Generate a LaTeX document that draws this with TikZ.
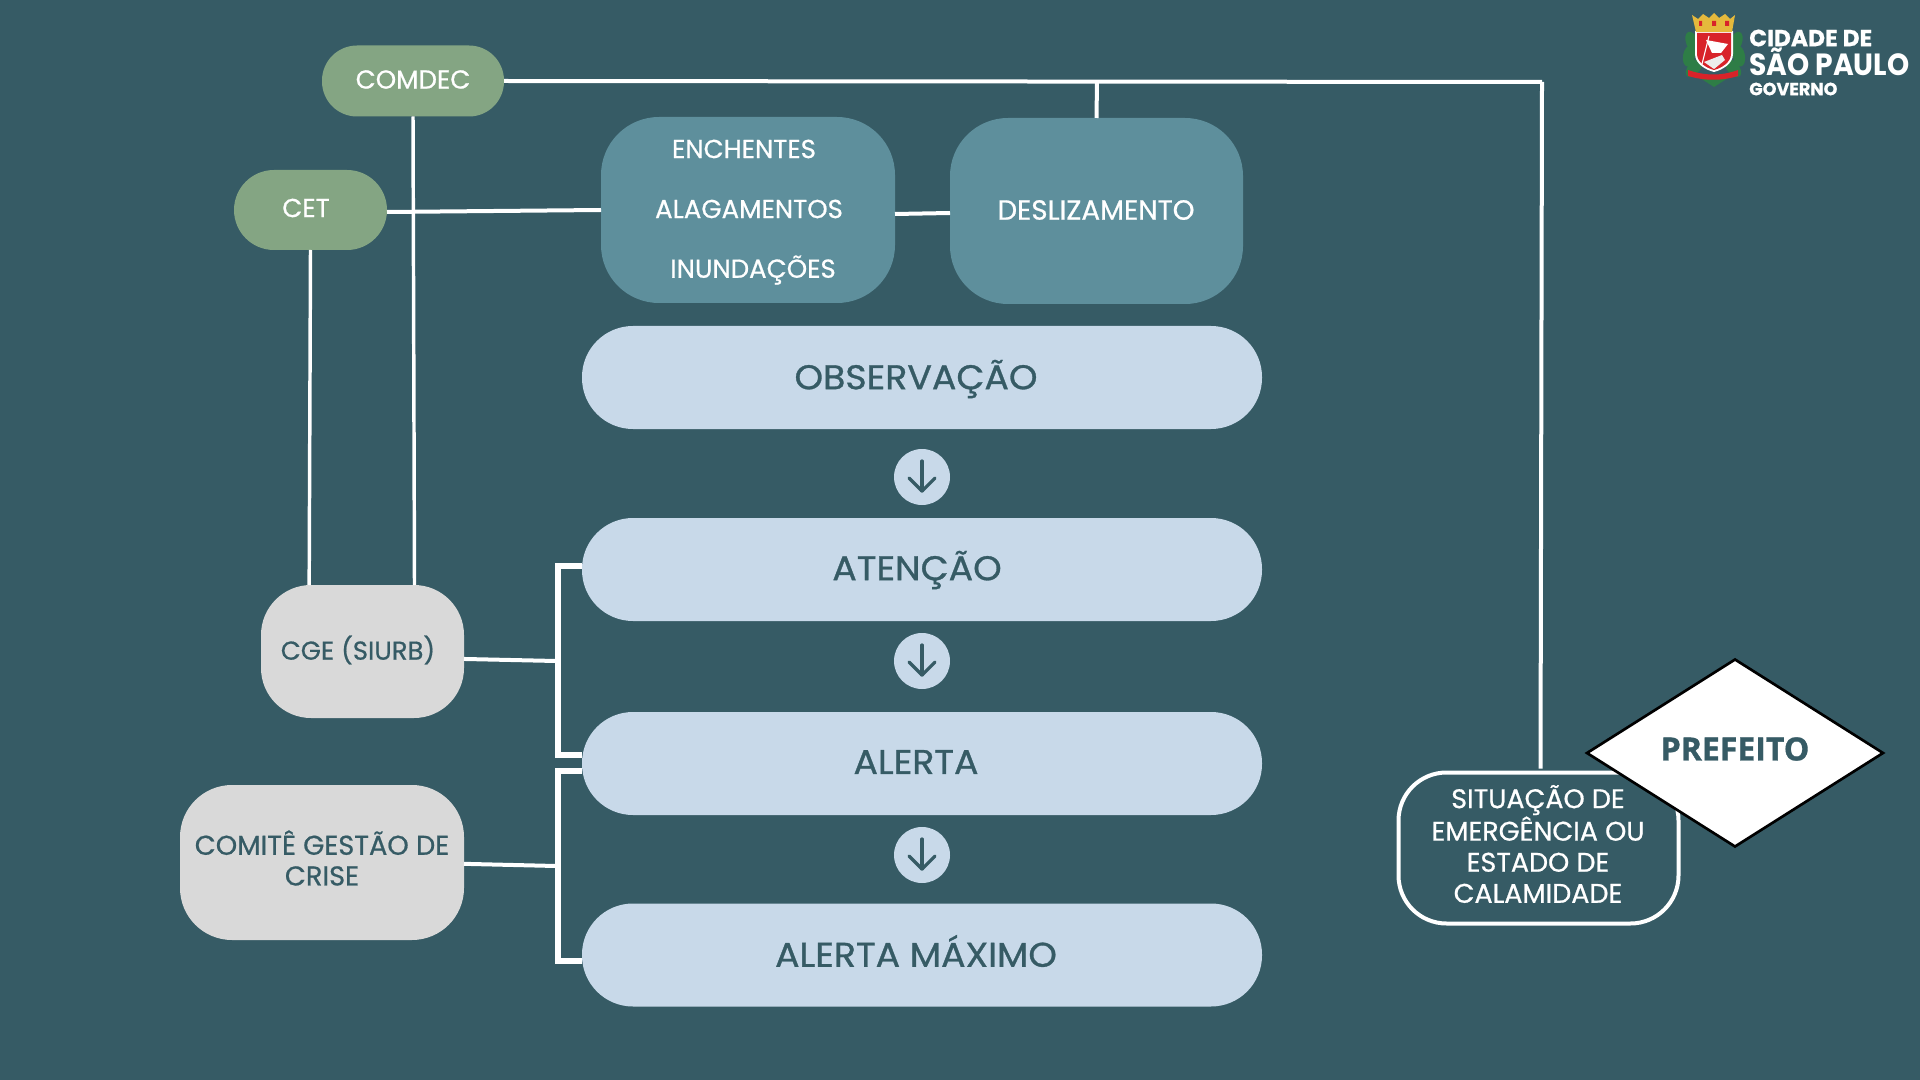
\documentclass[tikz,border=0pt]{standalone}
\usepackage{fontspec}
\usetikzlibrary{shapes.geometric,calc}
\setmainfont{Poppins}
\newfontfamily\popf[FakeBold=0.7]{Poppins}
\newfontfamily\popl[FakeBold=0.9,FakeStretch=1.06]{Poppins}
\newfontfamily\popn[FakeStretch=0.92]{Poppins}
\newfontfamily\openf[FakeBold=1]{Open Sans}
\definecolor{bgc}{HTML}{365B65}
\definecolor{pale}{HTML}{C8D9E9}
\definecolor{sage}{HTML}{84A583}
\definecolor{teal}{HTML}{5E8F9C}
\definecolor{greyb}{HTML}{D9D9D9}
\definecolor{leaf}{HTML}{2E7D46}
\definecolor{crown}{HTML}{E5B93C}
\definecolor{shield}{HTML}{D8232A}
\tikzset{
  sz/.style 2 args={minimum width=#1*0.75pt,minimum height=#2*0.75pt,inner sep=0pt,outer sep=0pt},
  rc/.style={rounded corners=#1*0.75pt},
  link/.style={draw=white,line width=3pt},
  thinlink/.style={draw=white,line width=2.6pt},
  brk/.style={draw=white,line width=4pt},
  sagebox/.style={fill=sage},
  tealbox/.style={fill=teal},
  whitetxt/.style={text=white,font=\popf\fontsize{19.5}{22}\selectfont,inner sep=0pt},
  levelbox/.style={fill=pale,sz={680}{103},rc=51},
  leveltxt/.style={text=bgc,font=\popl\fontsize{25.7}{28}\selectfont,inner sep=0pt},
  greybox/.style={fill=greyb},
  greytxt/.style={text=bgc,inner sep=0pt,align=center,font=\popf\fontsize{20.4}{23}\selectfont},
  dot/.style={circle,fill=pale,minimum size=56*0.75pt,inner sep=0pt,outer sep=0pt},
  arr/.style={draw=bgc,line width=2.4pt,line cap=round,line join=round},
  logotxt/.style={anchor=west,text=white,inner sep=0pt},
}
\begin{document}
\begin{tikzpicture}[x=0.75pt,y=-0.75pt]
\useasboundingbox (0,0) rectangle (1920,1080);
\fill[bgc] (0,0) rectangle (1920,1080);

\node[sagebox,sz={182}{71},rc=35] (comdec) at (413,81) {};
\node[whitetxt] (comdect) at (413,79.5) {COMDEC};
\node[sagebox,sz={153}{80},rc=40] (cet) at (310.5,210) {};
\node[whitetxt] (cett) at (306,208) {CET};
\node[tealbox,sz={294}{186},rc=58] (ench) at (748,210) {};
\node[tealbox,sz={293}{186},rc=58] (desl) at (1096.5,211) {};
\node[whitetxt] (t1) at (744,149) {ENCHENTES};
\node[whitetxt] (t2) at (749,209) {ALAGAMENTOS};
\node[whitetxt] (t3) at (753,270) {INUNDAÇÕES};
\node[whitetxt,font=\popf\fontsize{20.8}{22}\selectfont] (t4) at (1096,210) {DESLIZAMENTO};

\node[levelbox] (obs) at (922,377.5) {};
\node[levelbox] (ate) at (922,569.5) {};
\node[levelbox] (ale) at (922,763.5) {};
\node[levelbox] (max) at (922,955) {};
\node[leveltxt] (l1) at (916,379) {OBSERVAÇÃO};
\node[leveltxt] (l2) at (917,570) {ATENÇÃO};
\node[leveltxt] (l3) at (916,762) {ALERTA};
\node[leveltxt] (l4) at (916,951) {ALERTA MÁXIMO};

\node[dot] (d1) at (922,477) {};
\node[dot] (d2) at (922,661) {};
\node[dot] (d3) at (922,855) {};
\foreach \n in {d1,d2,d3}{
  \draw[arr] ($(\n.center)+(0,-16)$) -- ($(\n.center)+(0,14)$);
  \draw[arr] ($(\n.center)+(-13,1)$) -- ($(\n.center)+(0,14)$) -- ($(\n.center)+(13,1)$);
}

\node[greybox,sz={203}{133},rc=50] (cge) at (362.5,651.5) {};
\node[greytxt,font=\popf\fontsize{19.4}{23}\selectfont] (cget) at (358,650) {CGE (SIURB)};
\node[greybox,sz={284}{155},rc=52] (crise) at (322,862.5) {};
\node[greytxt] (criset) at (322,858) {COMITÊ GESTÃO DE\\CRISE};

\node[draw=white,line width=3pt,sz={280}{151},rc=48] (sit) at (1538.5,848) {};
\node[inner sep=0pt,text=white,align=center,font=\popf\fontsize{20.2}{23.3}\selectfont] (sitt) at (1538,844)
      {SITUAÇÃO DE\\EMERGÊNCIA OU\\ESTADO DE\\CALAMIDADE};

\node[diamond,draw=black,line width=2pt,fill=white,sz={296}{187}] (pref) at (1735,753) {};
\node[text=bgc,font=\openf\bfseries\fontsize{24}{28}\selectfont,inner sep=0pt] (preft) at (1735,749) {PREFEITO};

% connectors
\coordinate (cornerA) at (1542,82);
\coordinate (junc) at (1097,81);
\draw[link] (comdec.east) -- (cornerA);
\draw[link] (cornerA) -- ([xshift=1.5pt,yshift=3pt]sit.north);
\draw[link] (junc) -- (desl.north);
\draw[thinlink] (comdec.south) -- ([xshift=39pt]cge.north);
\draw[thinlink] (cet.south) -- ([xshift=-40pt]cge.north);
\draw[link] ([yshift=-1.5pt]cet.east) -- (ench.west);
\draw[link] ([yshift=-3pt]ench.east) -- ([yshift=-1.5pt]desl.west);

\coordinate (bA) at (558,566);
\coordinate (bB) at (558,755);
\coordinate (bC) at (558,771);
\coordinate (bD) at (558,961);
\coordinate (mA) at (556,661);
\coordinate (mB) at (556,866);
\draw[brk] (ate.west |- bA) -- (bA) -- (bB) -- (ale.west |- bB);
\draw[brk] (ale.west |- bC) -- (bC) -- (bD) -- (max.west |- bD);
\draw[link] ([yshift=-5.6pt]cge.east) -- (mA);
\draw[link] ([yshift=-1pt]crise.east) -- (mB);

% logo
\begin{scope}
  \foreach \a/\b/\r in {1692/42/20,1689/56/-10,1694/68/-40,1736/42/-20,1739/56/10,1733/68/40}{
    \fill[leaf,rotate around={\r:(\a,\b)}] (\a,\b) ellipse (4.5pt and 8pt);
  }
  \fill[leaf] (1700,78) -- (1714,87) -- (1728,78) -- cycle;
  \fill[white] (1695,31) -- (1733,31) -- (1733,54) .. controls (1733,64) and (1722,70) .. (1714,72) .. controls (1706,70) and (1695,64) .. (1695,54) -- cycle;
  \fill[shield] (1697,33) -- (1731,33) -- (1731,54) .. controls (1731,62) and (1722,68) .. (1714,70) .. controls (1706,68) and (1697,62) .. (1697,54) -- cycle;
  \fill[white] (1706,40) -- (1728,44) -- (1721,53) -- (1712,53) -- cycle;
  \draw[white,line width=0.8pt] (1709,36) -- (1702,64);
  \fill[white!85!gray] (1704,62) -- (1722,55) -- (1725,60) -- (1714,69) -- cycle;
  \fill[crown] (1692,15) -- (1698,19) -- (1703,14) -- (1709,18) -- (1714,13) -- (1719,18) -- (1725,14) -- (1730,19) -- (1735,15) -- (1732,32) -- (1696,32) -- cycle;
  \fill[shield] (1699,21) rectangle (1702,26) (1712,21) rectangle (1716,26) (1725,21) rectangle (1729,26);
  \fill[shield] (1688,70) .. controls (1705,76) and (1722,76) .. (1738,70) -- (1738,76) .. controls (1722,81) and (1705,81) .. (1688,76) -- cycle;
\end{scope}
\node[logotxt,font=\popf\bfseries\fontsize{17.5}{20}\selectfont] (lg1) at (1749,38) {CIDADE DE};
\node[logotxt,font=\popn\bfseries\fontsize{23}{26}\selectfont] (lg2) at (1749,62) {SÃO PAULO};
\node[logotxt,font=\popf\bfseries\fontsize{13.2}{14}\selectfont] (lg3) at (1749,89) {GOVERNO};
\end{tikzpicture}
\end{document}
